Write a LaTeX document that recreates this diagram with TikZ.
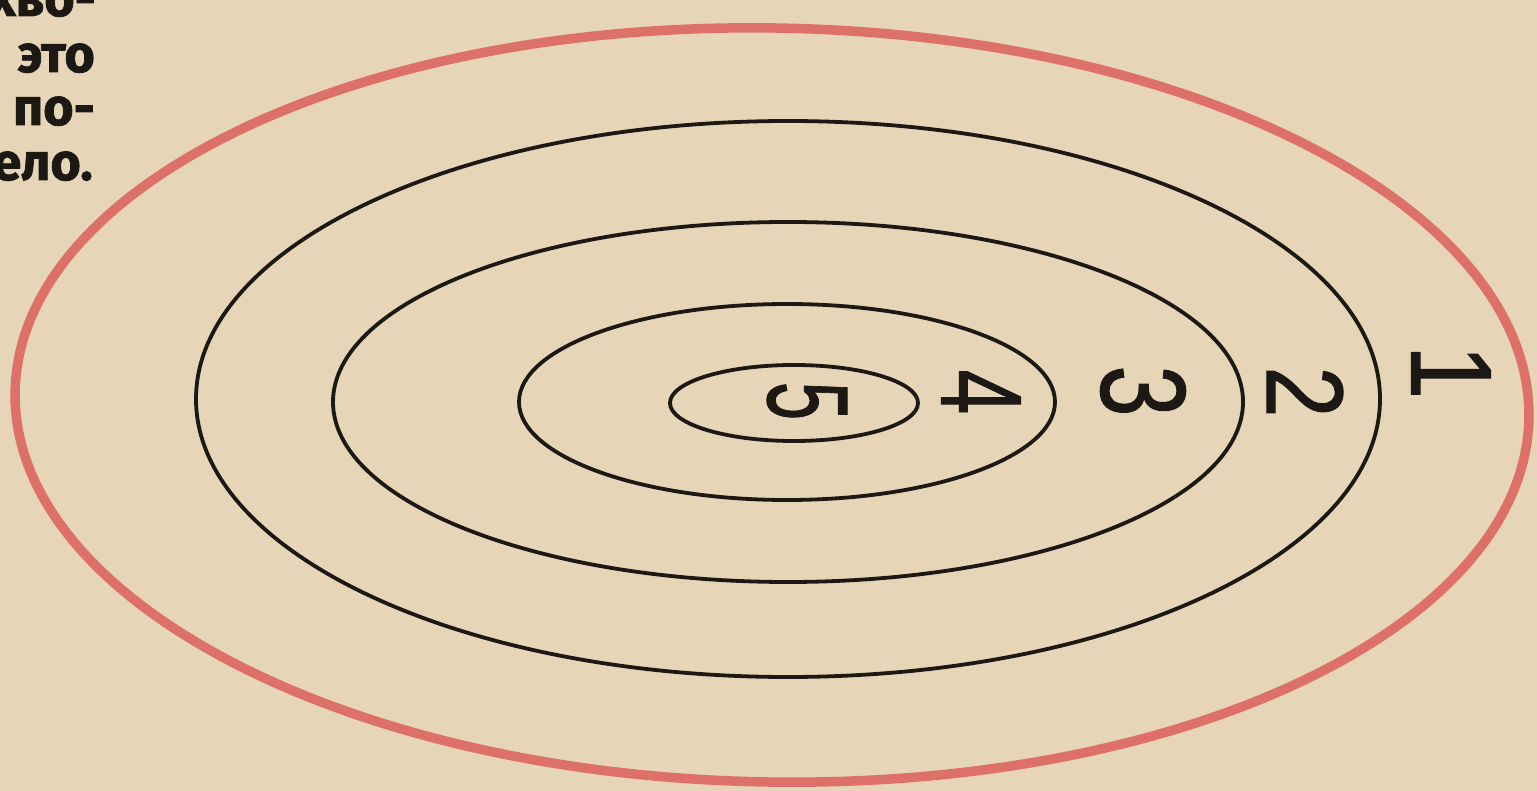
\documentclass[tikz,border=0pt]{standalone}
\usepackage{fontspec}
\setmainfont{Liberation Sans}
\newfontfamily\digfont{Liberation Sans}[FakeBold=1]
\newfontfamily\txtfont{Fira Sans}[BoldFeatures={FakeBold=1.5}]
\definecolor{paper}{RGB}{230,213,183}
\definecolor{redline}{RGB}{222,112,106}
\definecolor{ink}{RGB}{28,24,20}
\tikzset{
  ring/.style={draw=ink, line width=3.8pt},
  outerring/.style={draw=redline, line width=9.5pt},
  digit/.style={rotate=-90, text=ink, inner sep=0pt, font=\digfont\fontsize{115}{115}\selectfont},
  colw/.style={anchor=base east, inner sep=0pt, text=ink, font=\txtfont\bfseries\fontsize{52}{52}\selectfont}
}
\begin{document}
\begin{tikzpicture}[x=1pt,y=-1pt]
\useasboundingbox (0,0) rectangle (1537,791);
\fill[paper] (0,0) rectangle (1537,791);
\clip (0,0) rectangle (1537,791);
% text column fragment
\node[colw] (t1) at (96,16) {хво-};
\node[colw] (t2) at (95,72) {это};
\node[colw] (t3) at (95,125) {по-};
\node[colw] (t4) at (93,180) {ело.};
% ellipses
\draw[outerring, rotate around={-1:(772,405)}] (772,405) ellipse [x radius=757, y radius=377];
\draw[ring] (788,399) ellipse [x radius=592, y radius=278];
\draw[ring] (788,402) ellipse [x radius=455, y radius=180];
\draw[ring] (787,402) ellipse [x radius=268, y radius=98];
\draw[ring] (794,403) ellipse [x radius=124, y radius=38];
% digits
\node[digit] (d5) at (807,401) {\scalebox{0.6}[1]{5}};
\node[digit] (d4) at (981,392) {\scalebox{0.7}[1]{4}};
\node[digit] (d3) at (1143,391) {\scalebox{0.8}[1.05]{3}};
\node[digit] (d2) at (1305,392) {\scalebox{0.8}[0.95]{2}};
\node[digit] (d1) at (1451,372) {\scalebox{0.85}[1]{1}};
\end{tikzpicture}
\end{document}
